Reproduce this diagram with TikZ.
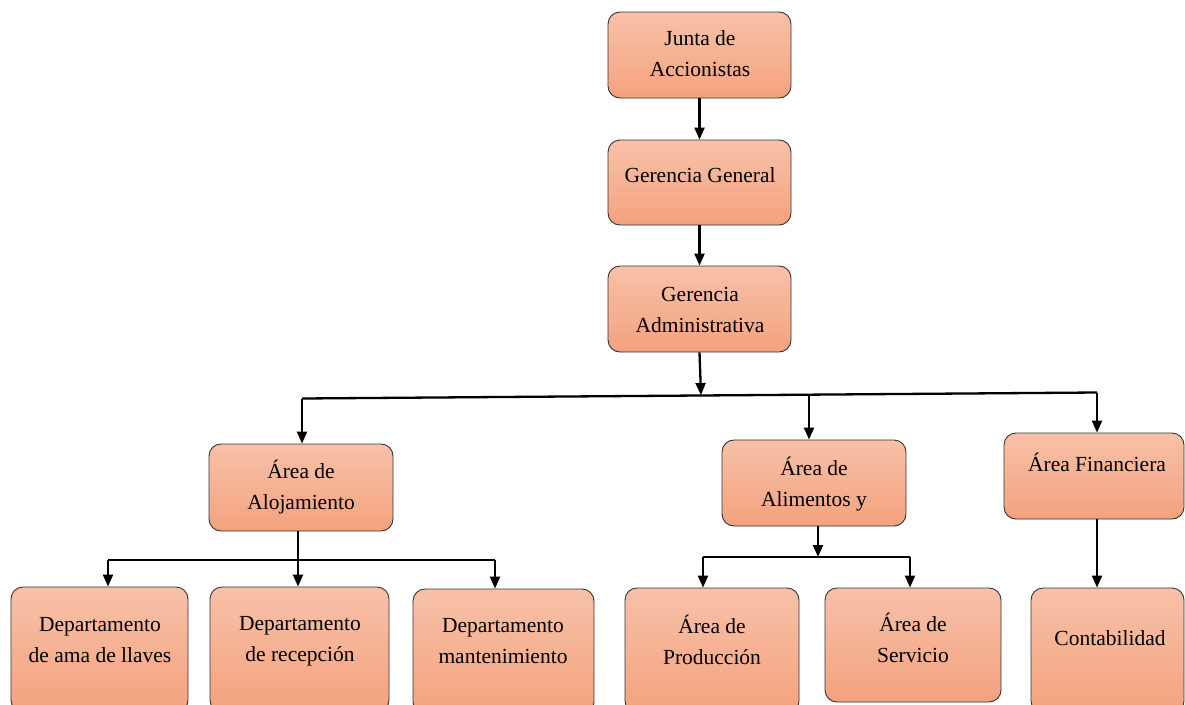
\documentclass[tikz,border=0pt]{standalone}
\usepackage{fontspec}
\setmainfont{Liberation Serif}
\usetikzlibrary{arrows.meta}
\definecolor{btop}{HTML}{F7C1A8}
\definecolor{bbot}{HTML}{F4A27E}
\begin{document}
\begin{tikzpicture}[x=1pt,y=-1pt,
 box/.style={draw=black!80, line width=0.9pt, rounded corners=12pt, top color=btop, bottom color=bbot, inner sep=0pt},
 txt/.style={font=\fontsize{21.5}{31}\selectfont, align=center, inner sep=0pt},
 conn/.style={line width=2.3pt, -{Triangle[length=12pt,width=10pt]}},
 bus/.style={line width=2.3pt}]
\clip (0,0) rectangle (1185,704);
\fill[white] (0,0) rectangle (1185,704);
% boxes
\node[box, minimum width=183pt, minimum height=86pt] (junta) at (699.5,55) {};
\node[box, minimum width=183pt, minimum height=85pt] (gg) at (699.5,182.5) {};
\node[box, minimum width=183pt, minimum height=86pt] (ga) at (699.5,309) {};
\node[box, minimum width=184pt, minimum height=87pt] (aloj) at (301,487.5) {};
\node[box, minimum width=184pt, minimum height=86pt] (alim) at (814,483) {};
\node[box, minimum width=180pt, minimum height=86pt] (fin) at (1094,476) {};
\node[box, minimum width=177pt, minimum height=125pt] (ama) at (99.5,649.5) {};
\node[box, minimum width=179pt, minimum height=125pt] (rec) at (299.5,649.5) {};
\node[box, minimum width=181pt, minimum height=125pt] (mant) at (503.5,651.5) {};
\node[box, minimum width=174pt, minimum height=125pt] (prod) at (712,650.5) {};
\node[box, minimum width=176pt, minimum height=114pt] (serv) at (913,645) {};
\node[box, minimum width=153pt, minimum height=125pt] (cont) at (1107.5,650.5) {};
% texts
\node[txt] (tjunta) at (700,54) {Junta de\\Accionistas};
\node[txt] (tgg) at (700,175) {Gerencia General};
\node[txt] (tga) at (700,310) {Gerencia\\Administrativa};
\node[txt] (taloj) at (301,487) {Área de\\Alojamiento};
\node[txt] (talim) at (814,484) {Área de\\Alimentos y};
\node[txt] (tfin) at (1097,462) {Área Financiera};
\node[txt] (tama) at (100,640) {Departamento\\de ama de llaves};
\node[txt] (trec) at (300,641) {Departamento\\de recepción};
\node[txt] (tmant) at (503,641) {Departamento\\mantenimiento};
\node[txt] (tprod) at (712,640) {Área de\\Producción};
\node[txt] (tserv) at (913,638) {Área de\\Servicio};
\node[txt] (tcont) at (1110,638) {Contabilidad};
% coordinates
\coordinate (bA) at (701,395);
\coordinate (bL) at (302,398.5);
\coordinate (bM) at (809,394);
\coordinate (bR) at (1097,392.5);
\coordinate (b2L) at (108,560);
\coordinate (b2M) at (298,560);
\coordinate (b2R) at (495,560);
\coordinate (b3L) at (703,557);
\coordinate (b3M) at (818,557);
\coordinate (b3R) at (910,557);
% connectors
\draw[conn] (junta.south) -- (gg.north);
\draw[conn] (gg.south) -- (ga.south |- ga.north);
\draw[conn] (ga.south) -- (bA);
\draw[bus] (bL) -- (bR);
\draw[conn] (bL) -- (bL |- aloj.north);
\draw[conn] (bM) -- (bM |- alim.north);
\draw[conn] (bR) -- (bR |- fin.north);
\draw[conn] (b2M |- aloj.south) -- (b2M |- rec.north);
\draw[bus] (b2L) -- (b2R);
\draw[conn] (b2L) -- (b2L |- ama.north);
\draw[conn] (b2R) -- (b2R |- mant.north);
\draw[conn] (b3M |- alim.south) -- (b3M);
\draw[bus] (b3L) -- (b3R);
\draw[conn] (b3L) -- (b3L |- prod.north);
\draw[conn] (b3R) -- (b3R |- serv.north);
\draw[conn] (bR |- fin.south) -- (bR |- cont.north);
\end{tikzpicture}
\end{document}
